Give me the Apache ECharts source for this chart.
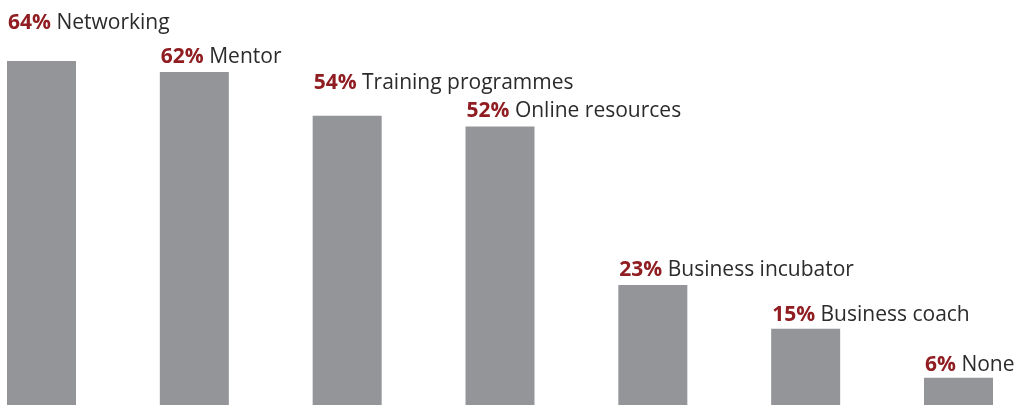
<!DOCTYPE html>
<html>
<head>
<meta charset="utf-8">
<script src="https://cdn.jsdelivr.net/npm/echarts@6/dist/echarts.min.js"></script>
<style>
html,body{margin:0;padding:0;background:#ffffff;}
#chart{width:1014px;height:405px;}
</style>
</head>
<body>
<div id="chart"></div>
<script>
const categories = ["Networking", "Mentor", "Training programmes", "Online resources", "Business incubator", "Business coach", "None"];
const values = [64, 62, 54, 52, 23, 15, 6];

// label vertical lift (style only): labels that would collide are raised higher
const labelLift = [-38, -15, -33, -16, -15, -14, -13];

const chart = echarts.init(document.getElementById('chart'), null, {renderer: 'canvas'});
const data = values.map((v, i) => ({
  value: v,
  label: {
    show: true,
    position: [1, labelLift[i]],
    align: 'left',
    verticalAlign: 'middle',
    formatter: '{p|' + v + '%}{n| ' + categories[i] + '}',
    rich: {
      p: {fontFamily: 'Open Sans', fontWeight: 'bold', fontSize: 21, color: '#8f1d22'},
      n: {fontFamily: 'Open Sans', fontWeight: 'normal', fontSize: 21, color: '#2b2b2b'}
    }
  }
}));

chart.setOption({
  animation: false,
  backgroundColor: '#ffffff',
  grid: {left: 41.5, right: 55.5, top: 61, bottom: 0, containLabel: false},
  xAxis: {
    type: 'category',
    data: categories,
    boundaryGap: false,
    axisLine: {show: false},
    axisTick: {show: false},
    axisLabel: {show: false},
    splitLine: {show: false}
  },
  yAxis: {
    type: 'value',
    min: 1.03,
    max: 64,
    show: false,
    splitLine: {show: false}
  },
  series: [{
    type: 'bar',
    data: data,
    barWidth: 69,
    clip: false,
    itemStyle: {color: '#939598'}
  }]
});
</script>
</body>
</html>
